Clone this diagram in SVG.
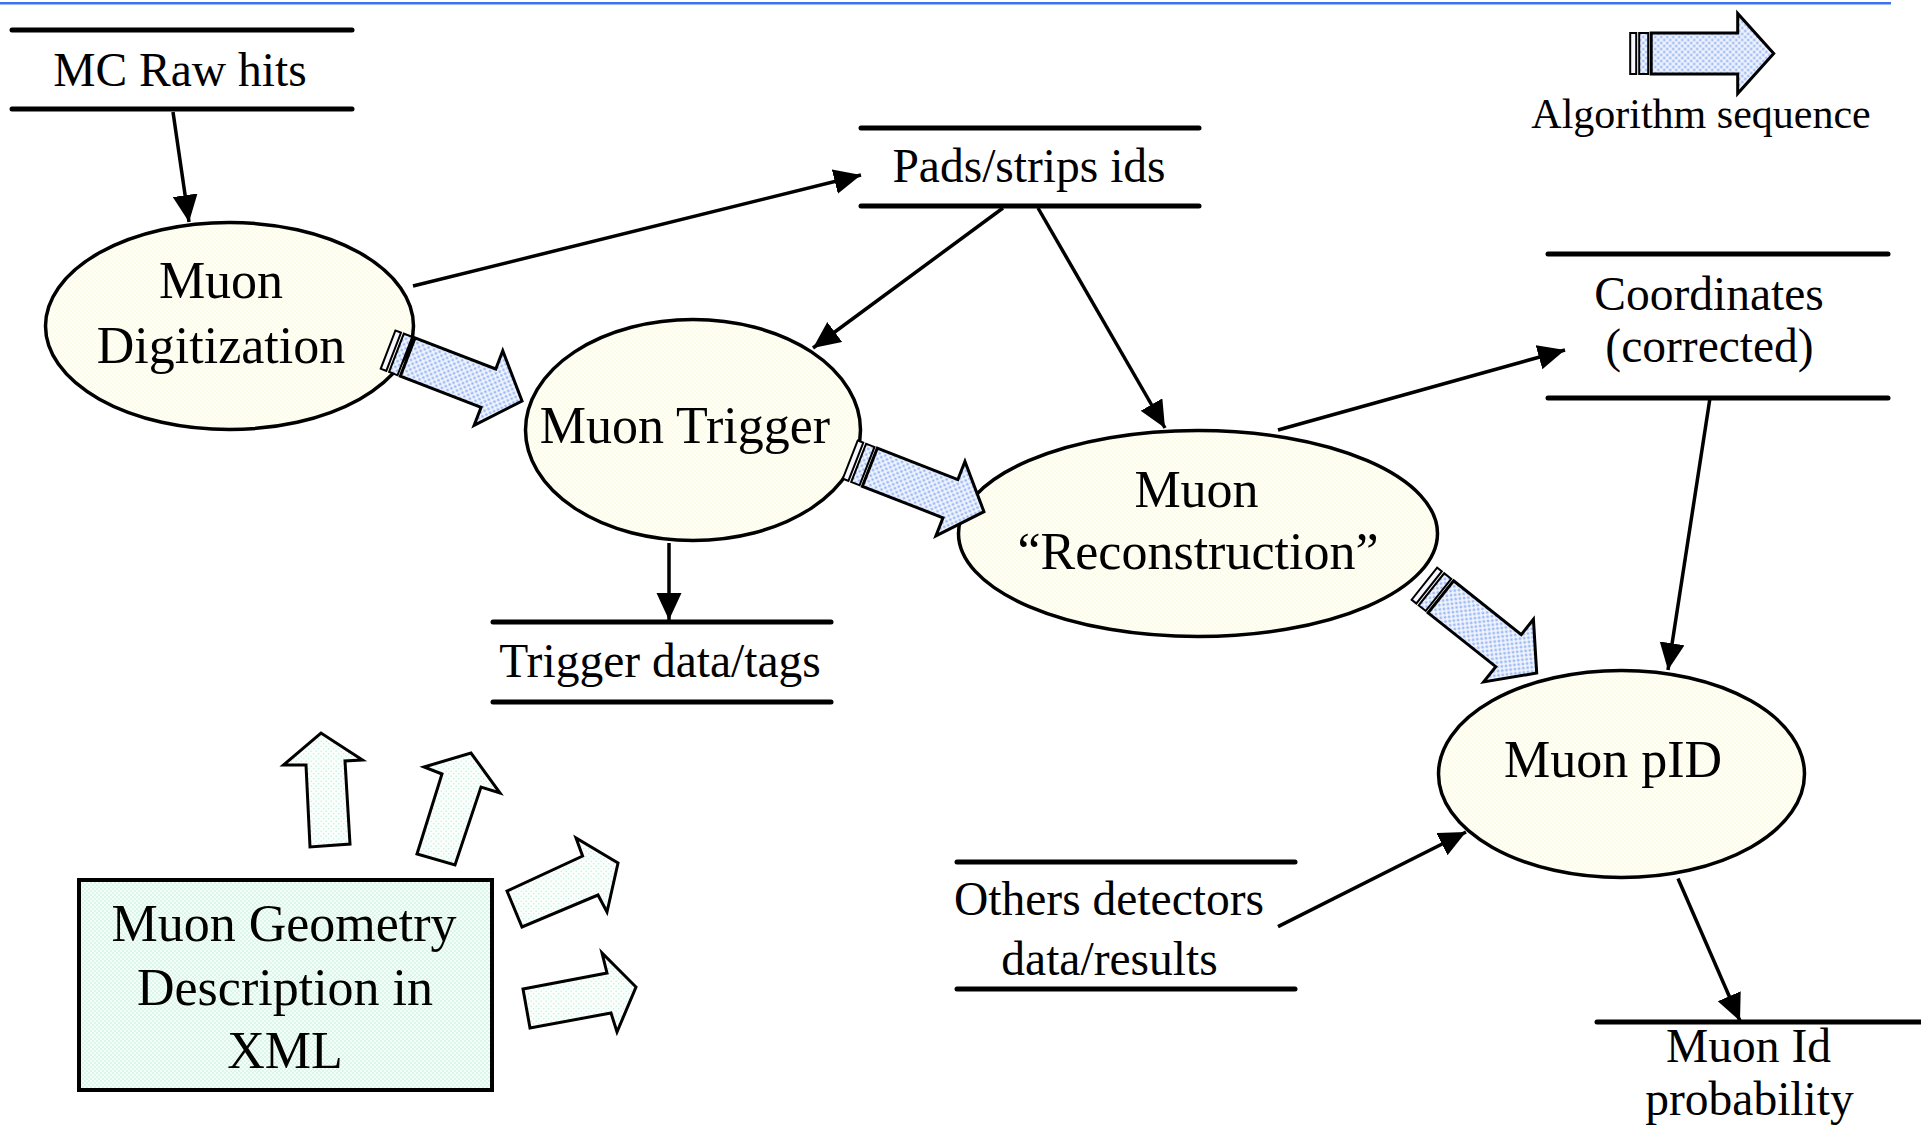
<svg xmlns="http://www.w3.org/2000/svg" width="1921" height="1132" viewBox="0 0 1921 1132">
<style>
text{font-family:"Liberation Serif","Times New Roman",serif;fill:#000;text-anchor:middle}
.ds{font-size:47.5px}
.nd{font-size:52px}
.lg{font-size:42px}
.bar{stroke:#000;stroke-width:5;stroke-linecap:round;fill:none}
.ell{fill:url(#dotYellow);stroke:#000;stroke-width:3.5}
.conn{stroke:#000;stroke-width:3.5;fill:none;marker-end:url(#ah)}
.seq{fill:url(#dotBlue);stroke:#000;stroke-width:3;stroke-linejoin:miter}
.geo{fill:url(#dotGreenL);stroke:#000;stroke-width:3;stroke-linejoin:miter}
</style>
<defs>
<pattern id="dotYellow" width="4" height="4" patternUnits="userSpaceOnUse"><rect width="4" height="4" fill="#fffff8"/><circle cx="1" cy="1" r="0.7" fill="#f8f8cc"/><circle cx="3" cy="3" r="0.7" fill="#f8f8cc"/></pattern>
<pattern id="dotBlue" width="6" height="6" patternUnits="userSpaceOnUse"><rect width="6" height="6" fill="#eef3fe"/><circle cx="1.5" cy="1.5" r="1.25" fill="#92b2f3"/><circle cx="4.5" cy="4.5" r="1.25" fill="#92b2f3"/></pattern>
<pattern id="dotGreen" width="4" height="4" patternUnits="userSpaceOnUse"><rect width="4" height="4" fill="#f4fdf9"/><circle cx="1" cy="1" r="0.75" fill="#b6eed4"/><circle cx="3" cy="3" r="0.75" fill="#b6eed4"/></pattern>
<pattern id="dotGreenL" width="5" height="5" patternUnits="userSpaceOnUse"><rect width="5" height="5" fill="#fbfffd"/><circle cx="1.2" cy="1.2" r="0.8" fill="#c6f0dc"/><circle cx="3.7" cy="3.7" r="0.8" fill="#c6f0dc"/></pattern>
<marker id="ah" markerUnits="userSpaceOnUse" markerWidth="28" markerHeight="26" refX="27" refY="12.5" orient="auto"><path d="M0,0 L27,12.5 L0,25 Z" fill="#000"/></marker>
<g id="seqShape">
<rect x="0.5" y="-20.5" width="6" height="41" fill="#f6f8fe" stroke="#000" stroke-width="2"/>
<rect x="9.5" y="-20.5" width="9" height="41" fill="url(#dotBlue)" stroke="#000" stroke-width="2"/>
<path class="seq" d="M21.5,-20.5 H108 V-40 L144,0 L108,40 V20.5 H21.5 Z"/>
</g>
</defs>
<rect width="1921" height="1132" fill="#fff"/>
<line x1="0" y1="3.3" x2="1891" y2="3.3" stroke="#3f73ee" stroke-width="2.5"/>

<g id="mc-raw-hits">
<line class="bar" x1="12" y1="30" x2="352" y2="30"/>
<line class="bar" x1="12" y1="109" x2="352" y2="109"/>
<text class="ds" x="180" y="86">MC Raw hits</text>
</g>

<g id="pads-strips-ids">
<line class="bar" x1="861" y1="128" x2="1199" y2="128"/>
<line class="bar" x1="861" y1="206" x2="1199" y2="206"/>
<text class="ds" x="1029" y="182">Pads/strips ids</text>
</g>

<g id="trigger-data">
<line class="bar" x1="493" y1="622" x2="831" y2="622"/>
<line class="bar" x1="493" y1="702" x2="831" y2="702"/>
<text class="ds" x="660" y="677">Trigger data/tags</text>
</g>

<g id="coordinates">
<line class="bar" x1="1548" y1="254" x2="1888" y2="254"/>
<line class="bar" x1="1548" y1="398" x2="1888" y2="398"/>
<text class="ds" x="1709" y="310">Coordinates</text>
<text class="ds" x="1709.5" y="362">(corrected)</text>
</g>

<g id="others-detectors">
<line class="bar" x1="957" y1="862" x2="1295" y2="862"/>
<line class="bar" x1="957" y1="989" x2="1295" y2="989"/>
<text class="ds" x="1109" y="915">Others detectors</text>
<text class="ds" x="1109.5" y="975">data/results</text>
</g>

<g id="muon-id-probability">
<line class="bar" x1="1597" y1="1022" x2="1930" y2="1022"/>
<line class="bar" x1="1597" y1="1134.5" x2="1930" y2="1134.5"/>
<text class="ds" x="1748.5" y="1062">Muon Id</text>
<text class="ds" x="1749.5" y="1115">probability</text>
</g>

<g id="muon-digitization">
<ellipse class="ell" cx="229.5" cy="326" rx="184" ry="103.5"/>
<text class="nd" x="221" y="298">Muon</text>
<text class="nd" x="221" y="363">Digitization</text>
</g>

<g id="muon-trigger">
<ellipse class="ell" cx="693" cy="430" rx="167.5" ry="110.5"/>
<text class="nd" x="685" y="443">Muon Trigger</text>
</g>

<g id="muon-reconstruction">
<ellipse class="ell" cx="1198" cy="533.5" rx="239.5" ry="103"/>
<text class="nd" x="1196.5" y="506.5">Muon</text>
<text class="nd" x="1198" y="569">“Reconstruction”</text>
</g>

<g id="muon-pid">
<ellipse class="ell" cx="1621.5" cy="774" rx="183" ry="103.5"/>
<text class="nd" x="1613" y="777">Muon pID</text>
</g>

<g id="muon-geometry">
<rect x="79" y="880" width="413" height="210" fill="url(#dotGreen)" stroke="#000" stroke-width="4"/>
<text class="nd" x="284" y="941">Muon Geometry</text>
<text class="nd" x="285" y="1005">Description in</text>
<text class="nd" x="285" y="1068">XML</text>
</g>

<g id="geometry-arrows">
<polygon class="geo" points="310,847 306,765 283.5,765 321,733 362.5,760 345,761 350,844"/>
<polygon class="geo" points="417,854 442,774 424,767 471,753 500,793 481,787 455,865"/>
<polygon class="geo" points="507,891 582.6,856 576,838 618,863 607,912 598,895 522,927"/>
<polygon class="geo" points="523,989 607,973 602,953 636,987 617,1032 611,1013 530,1028"/>
</g>

<g id="legend">
<use href="#seqShape" transform="translate(1629.7,53.5)"/>
<text class="lg" x="1701" y="128">Algorithm sequence</text>
</g>

<g id="connectors">
<line class="conn" x1="173" y1="112" x2="189" y2="222"/>
<line class="conn" x1="413" y1="286" x2="861" y2="175"/>
<line class="conn" x1="1003" y1="208" x2="813" y2="348"/>
<line class="conn" x1="1038" y1="208" x2="1165" y2="428"/>
<line class="conn" x1="669" y1="543" x2="669" y2="620"/>
<line class="conn" x1="1278" y1="430" x2="1565" y2="350"/>
<line class="conn" x1="1710" y1="398" x2="1668" y2="670"/>
<line class="conn" x1="1278" y1="926.6" x2="1466" y2="832"/>
<line class="conn" x1="1678" y1="878.5" x2="1740" y2="1021"/>
<g id="sequence-arrows">
<use href="#seqShape" transform="translate(387.6,349.4) rotate(21)"/>
<use href="#seqShape" transform="translate(849.8,459.4) rotate(21.3)"/>
<use href="#seqShape" transform="translate(1424,583.4) rotate(38.5)"/>
</g>
</g>
</svg>
